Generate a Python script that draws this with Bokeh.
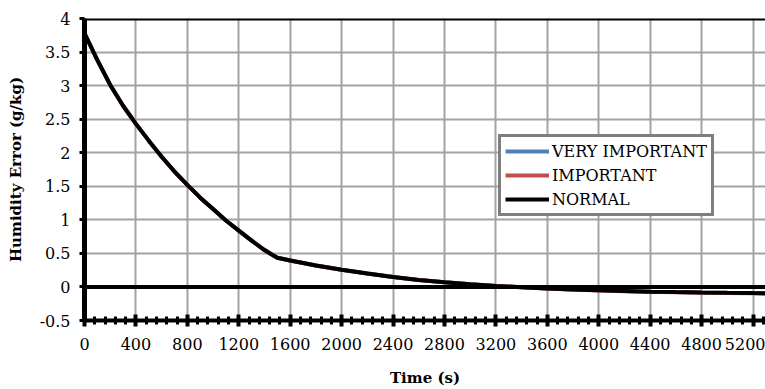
from bokeh.plotting import figure
from bokeh.models import Span, FixedTicker, Range1d, Legend, LegendItem
from bokeh.embed import file_html
from bokeh.resources import INLINE

# ---- data ----
time_s = [0, 100, 200, 300, 400, 500, 600, 700, 800, 900, 1000, 1100, 1200, 1300,
          1400, 1450, 1500, 1600, 1800, 2000, 2200, 2400, 2600, 2800, 3000, 3200,
          3400, 3600, 3800, 4000, 4200, 4400, 4600, 4800, 5000, 5200, 5400]
very_important = [3.78, 3.38, 3.01, 2.70, 2.43, 2.18, 1.94, 1.72, 1.52, 1.33, 1.16, 0.99,
                  0.84, 0.69, 0.55, 0.49, 0.435, 0.395, 0.32, 0.255, 0.20, 0.148, 0.105,
                  0.07, 0.04, 0.015, -0.005, -0.022, -0.037, -0.05, -0.06, -0.07, -0.077,
                  -0.083, -0.088, -0.092, -0.095]
important = [3.78, 3.38, 3.01, 2.70, 2.43, 2.18, 1.94, 1.72, 1.52, 1.33, 1.16, 0.99,
             0.84, 0.69, 0.55, 0.49, 0.435, 0.395, 0.32, 0.255, 0.20, 0.148, 0.105,
             0.07, 0.04, 0.015, -0.006, -0.024, -0.039, -0.052, -0.063, -0.073, -0.080,
             -0.086, -0.091, -0.095, -0.098]
normal = [3.78, 3.38, 3.01, 2.70, 2.43, 2.18, 1.94, 1.72, 1.52, 1.33, 1.16, 0.99,
          0.84, 0.69, 0.55, 0.49, 0.435, 0.395, 0.32, 0.255, 0.20, 0.148, 0.105,
          0.07, 0.04, 0.015, -0.005, -0.022, -0.037, -0.05, -0.06, -0.07, -0.077,
          -0.083, -0.088, -0.092, -0.095]
series_names = ["VERY IMPORTANT", "IMPORTANT", "NORMAL"]
series_colors = ["#4F81BD", "#C0504D", "#000000"]
x_ticks = [0, 400, 800, 1200, 1600, 2000, 2400, 2800, 3200, 3600, 4000, 4400, 4800, 5200]
y_ticks = [-0.5, 0, 0.5, 1, 1.5, 2, 2.5, 3, 3.5, 4]
y_tick_labels = ["-0.5", "0", "0.5", "1", "1.5", "2", "2.5", "3", "3.5", "4"]

FONT = "DejaVu Serif"

p = figure(width=765, height=389, output_backend="svg", toolbar_location=None,
           x_range=Range1d(0, 5297), y_range=Range1d(-0.5, 4),
           min_border_left=84, min_border_right=0, min_border_top=18, min_border_bottom=65)
p.outline_line_color = None
p.background_fill_color = "white"
p.border_fill_color = "white"

# grids
p.xgrid.ticker = FixedTicker(ticks=x_ticks)
p.ygrid.ticker = FixedTicker(ticks=y_ticks)
for g in (p.xgrid, p.ygrid):
    g.grid_line_color = "#a3a3a3"
    g.grid_line_width = 2

# x axis
xa = p.xaxis[0]
xa.ticker = FixedTicker(ticks=x_ticks, minor_ticks=list(range(0, 5400, 80)))
xa.axis_line_width = 4
xa.axis_line_color = "black"
xa.major_tick_in = 6
xa.major_tick_out = 6
xa.major_tick_line_width = 4
xa.minor_tick_in = 4
xa.minor_tick_out = 4
xa.minor_tick_line_width = 3
xa.major_label_standoff = 11
xa.major_label_text_font = FONT
xa.major_label_text_font_size = "16px"
xa.major_label_text_color = "black"
xa.axis_label = "Time (s)"
xa.axis_label_text_font = FONT
xa.axis_label_text_font_style = "bold"
xa.axis_label_text_font_size = "15px"
xa.axis_label_standoff = 16
xa.axis_label_text_color = "black"

# y axis
ya = p.yaxis[0]
ya.ticker = FixedTicker(ticks=y_ticks)
ya.major_label_overrides = {t: s for t, s in zip(y_ticks, y_tick_labels)}
ya.axis_line_width = 5
ya.axis_line_color = "black"
ya.major_tick_in = 0
ya.major_tick_out = 5
ya.major_tick_line_width = 3
ya.minor_tick_line_color = None
ya.major_label_standoff = 9
ya.major_label_text_font = FONT
ya.major_label_text_font_size = "16px"
ya.major_label_text_color = "black"
ya.axis_label = "Humidity Error (g/kg)"
ya.axis_label_text_font = FONT
ya.axis_label_text_font_style = "bold"
ya.axis_label_text_font_size = "15px"
ya.axis_label_standoff = 12
ya.axis_label_text_color = "black"

# zero line and top border
p.add_layout(Span(location=0, dimension="width", line_color="black", line_width=4))
p.add_layout(Span(location=4, dimension="width", line_color="black", line_width=4))

renderers = []
for name, ys, col in zip(series_names, [very_important, important, normal], series_colors):
    r = p.line(time_s, ys, line_color=col, line_width=4)
    renderers.append((name, r))

legend = Legend(items=[LegendItem(label=n, renderers=[r]) for n, r in renderers],
                location=(414, 104))
legend.border_line_color = "black"
legend.border_line_width = 3.5
legend.background_fill_color = "white"
legend.background_fill_alpha = 1
legend.label_text_font = FONT
legend.label_text_font_size = "16px"
legend.label_text_color = "black"
legend.glyph_width = 44
legend.glyph_height = 20
legend.label_height = 20
legend.label_standoff = 3
legend.spacing = 4
legend.padding = 4
legend.margin = 0
p.add_layout(legend)

open("out.html", "w").write(file_html(p, INLINE))
